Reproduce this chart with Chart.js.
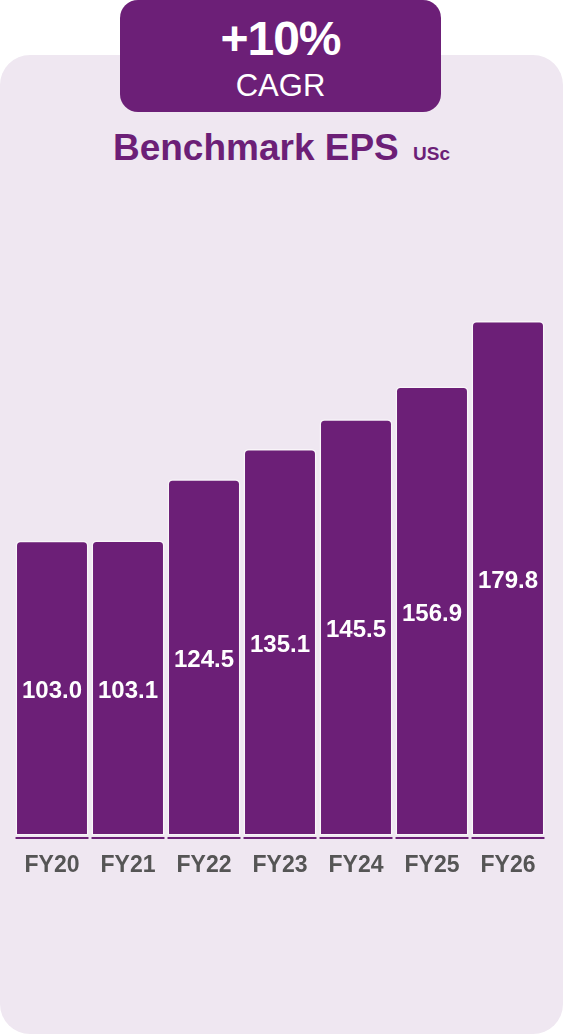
<!DOCTYPE html>
<html>
<head>
<meta charset="utf-8">
<title>Benchmark EPS</title>
<script src="https://cdn.jsdelivr.net/npm/chart.js@4"></script>
<style>
  html, body { margin: 0; padding: 0; background: #ffffff; }
  body { width: 563px; height: 1034px; position: relative; overflow: hidden;
         font-family: "Liberation Sans", Arial, sans-serif; }
  .panel { position: absolute; left: 0; top: 55px; width: 563px; height: 979px;
           background: #efe7f1; border-radius: 30px; }
  .badge { position: absolute; left: 120px; top: 0; width: 321px; height: 112px;
           background: #6c1f77; border-radius: 18px; color: #fff; text-align: center; }
  .badge .big { position: absolute; left: 0; right: 0; top: 11px; font-size: 48px;
                font-weight: bold; line-height: 56px; letter-spacing: -1px; }
  .badge .small { position: absolute; left: 0; right: 0; top: 68px; font-size: 31px;
                  line-height: 36px; }
  .title { position: absolute; left: 0; right: 0; top: 126px; text-align: center;
           color: #6c1f77; font-weight: bold; font-size: 37px; line-height: 44px; }
  .title span { font-size: 19px; margin-left: 4px; }
  #chart { position: absolute; left: 0; top: 0; }
</style>
</head>
<body>
<div class="panel"></div>
<div class="badge"><div class="big">+10%</div><div class="small">CAGR</div></div>
<div class="title">Benchmark EPS <span>USc</span></div>
<canvas id="chart" width="563" height="1034"></canvas>
<script>
const years = ['FY20', 'FY21', 'FY22', 'FY23', 'FY24', 'FY25', 'FY26'];
const eps = [103.0, 103.1, 124.5, 135.1, 145.5, 156.9, 179.8];

const purple = '#6c1f77';

// value printed in the middle of each bar
const barValues = {
  id: 'barValues',
  afterDatasetsDraw(chart) {
    const ctx = chart.ctx;
    const meta = chart.getDatasetMeta(0);
    ctx.save();
    ctx.fillStyle = '#ffffff';
    ctx.font = 'bold 24px "Liberation Sans", Arial, sans-serif';
    ctx.textAlign = 'center';
    ctx.textBaseline = 'middle';
    meta.data.forEach((bar, i) => {
      const y = (bar.y + bar.base) / 2 + 3;
      ctx.fillText(eps[i].toFixed(1), bar.x, y);
    });
    ctx.restore();
  }
};

// short purple rule under each bar
const barFoot = {
  id: 'barFoot',
  afterDatasetsDraw(chart) {
    const ctx = chart.ctx;
    const meta = chart.getDatasetMeta(0);
    ctx.save();
    ctx.strokeStyle = purple;
    ctx.lineWidth = 2;
    meta.data.forEach(bar => {
      const y = bar.base + 2.5;
      ctx.beginPath();
      ctx.moveTo(bar.x - bar.width / 2, y);
      ctx.lineTo(bar.x + bar.width / 2, y);
      ctx.stroke();
    });
    ctx.restore();
  }
};

new Chart(document.getElementById('chart'), {
  type: 'bar',
  data: {
    labels: years,
    datasets: [{
      data: eps,
      backgroundColor: purple,
      borderColor: 'rgba(255,255,255,0.6)',
      borderWidth: 1.5,
      borderSkipped: false,
      borderRadius: { topLeft: 5, topRight: 5, bottomLeft: 0, bottomRight: 0 },
      categoryPercentage: 1,
      barPercentage: 0.96
    }]
  },
  options: {
    responsive: false,
    animation: false,
    events: [],
    layout: { padding: { top: 206, left: 14, right: 17, bottom: 139 } },
    scales: {
      x: {
        grid: { display: false, drawTicks: false },
        border: { display: false },
        ticks: {
          color: '#555555',
          padding: 16,
          font: { family: '"Liberation Sans", Arial, sans-serif', size: 23, weight: 'bold' }
        }
      },
      y: {
        display: false,
        min: 0,
        max: 220
      }
    },
    plugins: {
      legend: { display: false },
      tooltip: { enabled: false }
    }
  },
  plugins: [barValues, barFoot]
});
</script>
</body>
</html>
